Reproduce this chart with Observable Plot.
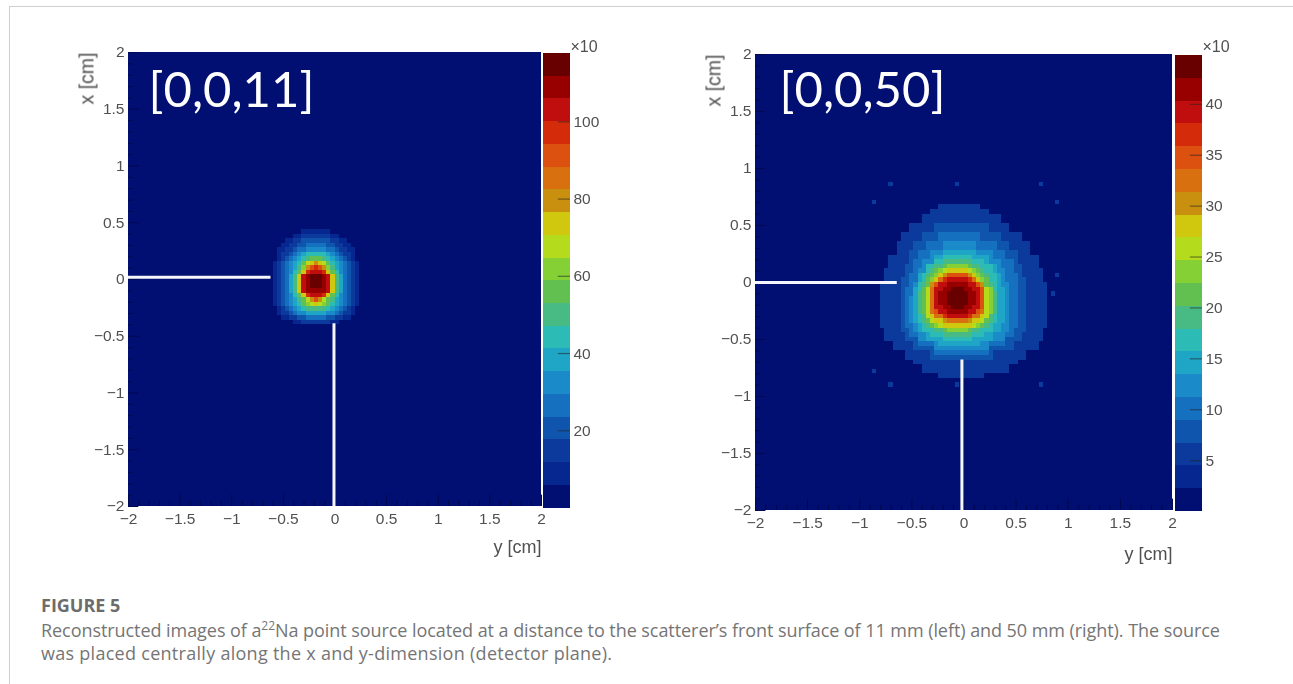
<!DOCTYPE html>
<html><head><meta charset="utf-8">
<script src="https://cdn.jsdelivr.net/npm/d3@7"></script>
<script src="https://cdn.jsdelivr.net/npm/@observablehq/plot@0.6"></script>
<style>
html,body{margin:0;padding:0;background:#fff;width:1293px;height:684px;overflow:hidden}
#page{position:relative;width:1293px;height:684px}
#page svg{position:absolute;background:transparent;overflow:visible}
#page svg g[aria-label="rect"]{filter:blur(.6px)}
#page svg text{filter:blur(.3px)}
.edge{position:absolute;background:#cfcfcf}
.cap{position:absolute;font-family:"Open Sans",sans-serif;color:#757575;font-size:18px;white-space:nowrap;line-height:24px}
.cap sup{font-size:12px;line-height:0}
</style></head><body><div id="page"></div>
<script>
const axisTicks=[-2,-1.5,-1,-0.5,0,0.5,1,1.5,2];
const axisLabels=["\u22122","\u22121.5","\u22121","\u22120.5","0","0.5","1","1.5","2"];
const minorTicks=[-1.9,-1.8,-1.7,-1.6,-1.4,-1.3,-1.2,-1.1,-0.9,-0.8,-0.7,-0.6,-0.4,-0.3,-0.2,-0.1,0.1,0.2,0.3,0.4,0.6,0.7,0.8,0.9,1.1,1.2,1.3,1.4,1.6,1.7,1.8,1.9];
const bandColors=["#010f72","#05278f","#0b3a9c","#0f55ad","#1570c0","#1a8ac8","#1fa5c5","#2cbbb5","#48bb85","#62c050","#85d035","#b5dc1c","#cfc80f","#c99010","#d87010","#dc5010","#d42c0a","#c00d0d","#980000","#680000"];
const barMaxLeft=117.7, barMaxRight=44.8;
const barTicksLeft=[20,40,60,80,100];
const barTicksRight=[5,10,15,20,25,30,35,40];

// Left image: band index per bin (base 20), first bin col 35 / row 39 of the 100x100 grid
const leftCol=35,leftRow=39;
const leftRows=[
"000000011111110000000",
"000001122222221100000",
"000112233333332211000",
"001122334444433221100",
"011223445555544322110",
"012234567777765432210",
"012345678999876543210",
"12345679bcdcb97654321",
"1234568adfgfda8654321",
"1234579cghhhgc9754321",
"123468chijjjihc864321",
"123468chijjjihc864321",
"123468chijjjihc864321",
"123468chiiiiihc864321",
"1234579cghhhgc9754321",
"12345689bdfdb98654321",
"12345679abcba97654321",
"012345678888876543210",
"012234556666655432210",
"001122334444433221100",
"000001122222221100000"];

// Right image: footprint of each band as [rowFrom,rowTo,colFrom,colTo], first bin col 30 / row 33
const rightCol=30,rightRow=33;
const rightBands={
2:[[0,0,14,23],[1,1,12,25],[2,3,10,28],[4,5,7,30],[6,7,5,33],[8,10,4,35],[11,13,2,37],[14,16,1,38],[17,26,0,39],[27,29,1,38],[30,31,3,37],[32,33,6,34],[34,34,8,32],[35,36,10,30],[37,37,14,24]],
3:[[4,5,13,25],[6,7,10,28],[8,9,8,30],[10,12,7,32],[13,15,6,33],[16,27,5,34],[28,29,6,33],[30,31,8,31],[32,33,12,26]],
4:[[6,7,14,23],[8,9,11,27],[10,11,9,29],[12,14,8,31],[15,17,7,32],[18,26,6,32],[27,28,7,31],[29,30,9,29],[31,32,13,25]],
5:[[8,9,15,22],[10,11,12,26],[12,13,10,28],[14,16,9,29],[17,19,8,30],[20,25,7,30],[26,27,8,30],[28,29,9,29],[30,31,13,25]],
6:[[10,10,15,22],[11,12,13,25],[13,14,11,27],[15,17,9,28],[18,25,8,29],[26,27,9,28],[28,29,11,26],[30,30,14,23]],
7:[[11,11,15,21],[12,12,13,24],[13,14,11,26],[15,16,10,27],[17,25,9,27],[26,27,10,26],[28,28,12,24],[29,29,15,21]],
8:[[12,12,15,21],[13,13,13,23],[14,14,12,24],[15,16,11,25],[17,18,10,26],[19,23,9,27],[24,25,10,26],[26,26,11,25],[27,27,13,23],[28,28,15,21]],
9:[[13,13,15,21],[14,14,13,23],[15,15,12,24],[16,17,11,25],[18,23,10,26],[24,25,11,25],[26,26,12,24],[27,27,15,21]],
10:[[13,13,16,20],[14,14,14,22],[15,15,13,23],[16,17,12,24],[18,23,11,26],[24,25,12,24],[26,26,13,23],[27,27,16,20]],
11:[[14,14,15,21],[15,15,14,22],[16,17,13,23],[18,24,11,25],[25,25,12,24],[26,26,14,22]],
12:[[14,14,16,20],[15,15,14,22],[16,16,13,23],[17,24,12,24],[25,25,13,23],[26,26,15,21]],
13:[[15,15,15,21],[16,16,14,22],[17,23,12,24],[24,24,13,23],[25,25,15,21]],
14:[[15,15,16,20],[16,16,14,22],[17,17,13,23],[18,23,12,24],[24,24,13,23],[25,25,16,20]],
15:[[15,15,16,20],[16,16,15,21],[17,17,13,23],[18,22,13,24],[23,23,13,23],[24,24,15,21]],
16:[[16,16,15,21],[17,17,14,22],[18,22,13,23],[23,23,14,22],[24,24,15,21]],
17:[[16,16,16,20],[17,17,14,22],[18,22,13,23],[23,23,14,22],[24,24,16,20]],
18:[[17,17,16,20],[18,18,15,21],[19,21,14,22],[22,22,15,21],[23,23,16,20]],
19:[[18,18,17,19],[19,21,16,20],[22,22,17,19]]
};
// Faint isolated spots of the right image [col,row] on the 100x100 grid
const rightSpots=[[32,28],[48,28],[68,28],[28,32],[72,32],[72,48],[71,52],[28,69],[32,72],[48,72],[68,72]];

// White marker lines [from,to] in cm
const leftMarks={h:{at:0.02,from:-2,to:-0.62},v:{at:-0.01,from:-2,to:-0.39}};
const rightMarks={h:{at:0,from:-2,to:-0.64},v:{at:-0.02,from:-2,to:-0.68}};

const bin=0.04;
function cellsFromRows(rows,c0,r0){const o=[];rows.forEach((s,r)=>[...s].forEach((ch,c)=>{const b=parseInt(ch,20);if(b>0)o.push({c:c0+c,r:r0+r,b});}));return o;}
function cellsFromBands(bands,c0,r0,spots){const m=new Map();
  for(const [c,r] of spots)m.set(c+","+r,{c,r,b:2});
  for(const k of Object.keys(bands).map(Number).sort((a,b)=>a-b))
    for(const [ra,rb,ca,cb] of bands[k])
      for(let r=ra;r<=rb;r++)for(let c=ca;c<=cb;c++)m.set((c0+c)+","+(r0+r),{c:c0+c,r:r0+r,b:k});
  return [...m.values()];}
const colorScale={type:"ordinal",domain:d3.range(20),range:bandColors};
const page=document.getElementById("page");
function place(svg,left,top){svg.style.left=left+"px";svg.style.top=top+"px";page.appendChild(svg);}
const fam="'Liberation Sans',Arial,sans-serif";
const font={fontFamily:fam,fontSize:"15px"};
const grey="#505050";

function heat(cfg){
  const W=cfg.x1-cfg.x0+100,H=cfg.y1-cfg.y0+80;
  const ml=70,mt=20;
  const dark="#00084f";
  const svg=Plot.plot({
    width:W,height:H,marginLeft:ml,marginRight:W-ml-(cfg.x1-cfg.x0),marginTop:mt,marginBottom:H-mt-(cfg.y1-cfg.y0),
    style:{...font,background:"transparent",color:grey},
    x:{domain:[-2,2],axis:null},y:{domain:[-2,2],axis:null},color:colorScale,
    marks:[
      Plot.rect([{b:0}],{x1:-2,x2:2,y1:-2,y2:2,fill:"b",shapeRendering:"crispEdges"}),
      Plot.rect(cfg.cells,{x1:d=>-2+d.c*bin,x2:d=>-2+(d.c+1)*bin,y1:d=>2-d.r*bin,y2:d=>2-(d.r+1)*bin,fill:"b",shapeRendering:"crispEdges"}),
      Plot.ruleX(minorTicks,{y1:-2,y2:-1.955,stroke:dark,strokeWidth:1}),
      Plot.ruleX(axisTicks,{y1:-2,y2:-1.9,stroke:dark,strokeWidth:1}),
      Plot.ruleY(minorTicks,{x1:-2,x2:-1.955,stroke:dark,strokeWidth:1}),
      Plot.ruleY(axisTicks,{x1:-2,x2:-1.9,stroke:dark,strokeWidth:1}),
      Plot.ruleY([cfg.marks.h.at],{x1:cfg.marks.h.from,x2:cfg.marks.h.to,stroke:"#f4f6fb",strokeWidth:3}),
      Plot.ruleX([cfg.marks.v.at],{y1:cfg.marks.v.from,y2:cfg.marks.v.to,stroke:"#f4f6fb",strokeWidth:3}),
      Plot.axisX({anchor:"bottom",ticks:axisTicks,tickSize:0,tickPadding:6,tickFormat:d=>axisLabels[axisTicks.indexOf(d)],fill:grey,fontSize:15.5,fontFamily:fam,label:null}),
      Plot.axisY({anchor:"left",ticks:axisTicks,tickSize:0,tickPadding:4,tickFormat:d=>axisLabels[axisTicks.indexOf(d)],fill:grey,fontSize:15.5,fontFamily:fam,label:null}),
      Plot.text(["y [cm]"],{frameAnchor:"bottom-right",dy:cfg.xLabelDy,fontSize:18,fontFamily:fam,fill:grey,textAnchor:"end"}),
      Plot.text(["x [cm]"],{frameAnchor:"top-left",dx:-49,dy:0,rotate:-90,fontSize:19.5,fontFamily:fam,fill:grey,textAnchor:"end"}),
      Plot.text([cfg.title],{frameAnchor:"top-left",dx:cfg.titleDx,dy:cfg.titleDy,fontSize:49,fill:"#fff",textAnchor:"start",lineAnchor:"middle",fontFamily:"Lato, sans-serif"})
    ]
  });
  place(svg,cfg.x0-ml,cfg.y0-mt);
}
function bar(cfg){
  const W=cfg.x1-cfg.x0+50,H=cfg.y1-cfg.y0+40,mt=25;
  const step=cfg.max/20;
  const svg=Plot.plot({
    width:W,height:H,marginLeft:0,marginRight:50,marginTop:mt,marginBottom:H-mt-(cfg.y1-cfg.y0),
    style:{...font,background:"transparent",color:grey},
    x:{domain:[0,1],axis:null},y:{domain:[0,cfg.max],axis:null},color:colorScale,
    marks:[
      Plot.rect(d3.range(20),{x1:0,x2:1,y1:d=>d*step,y2:d=>(d+1)*step,fill:d=>d,shapeRendering:"crispEdges"}),
      Plot.ruleY(cfg.ticks,{x1:0.55,x2:1,stroke:"#222",strokeOpacity:.55,strokeWidth:1.2}),
      Plot.axisY({anchor:"right",ticks:cfg.ticks,tickSize:0,tickPadding:3,tickFormat:d=>String(d),fill:grey,fontSize:15.5,fontFamily:fam,label:null}),
      Plot.text([cfg.mult],{frameAnchor:"top-right",dx:0,dy:cfg.multDy,fontSize:16,fontFamily:fam,fill:grey,textAnchor:"start"})
    ]
  });
  place(svg,cfg.x0,cfg.y0-mt);
}
heat({x0:128,x1:541,y0:52,y1:506,cells:cellsFromRows(leftRows,leftCol,leftRow),marks:leftMarks,title:"[0,0,11]",titleDx:20,titleDy:39,xLabelDy:46});
heat({x0:755,x1:1172,y0:54,y1:510,cells:cellsFromBands(rightBands,rightCol,rightRow,rightSpots),marks:rightMarks,title:"[0,0,50]",titleDx:24,titleDy:37,xLabelDy:49});
bar({x0:543,x1:570,y0:53,y1:507.5,max:barMaxLeft,ticks:barTicksLeft,mult:"\u00d710",multDy:-13});
bar({x0:1175,x1:1202,y0:55,y1:511,max:barMaxRight,ticks:barTicksRight,mult:"\u00d710",multDy:-15});

const e1=document.createElement("div");e1.className="edge";e1.style.cssText="left:9px;top:6px;width:1284px;height:1px";page.appendChild(e1);
const e2=document.createElement("div");e2.className="edge";e2.style.cssText="left:9px;top:6px;width:1px;height:678px";page.appendChild(e2);
function cap(html,top,extra){const d=document.createElement("div");d.className="cap";d.style.top=top+"px";d.style.left="41px";d.innerHTML=html;if(extra)d.style.cssText+=extra;page.appendChild(d);}
cap("FIGURE 5",593,"font-weight:700;font-size:18px;color:#6c6c6c");
cap("Reconstructed images of a<sup>22</sup>Na point source located at a distance to the scatterer\u2019s front surface of 11 mm (left) and 50 mm (right). The source",618,"letter-spacing:-.06px;");
cap("was placed centrally along the x and y-dimension (detector plane).",641,"letter-spacing:.28px;");
</script></body></html>
